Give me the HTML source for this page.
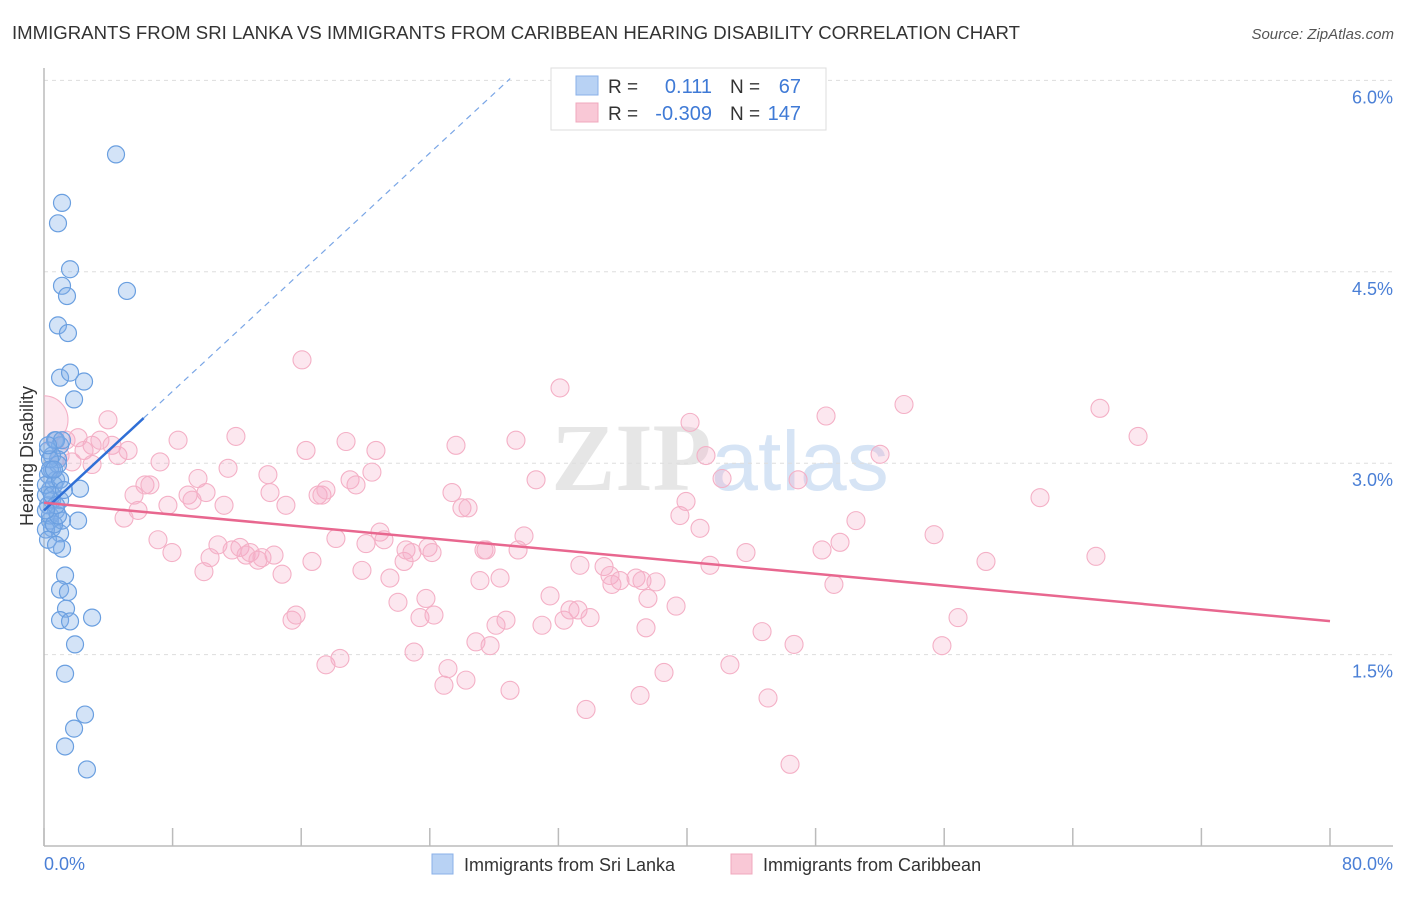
<!DOCTYPE html>
<html><head><meta charset="utf-8"><style>
body{margin:0;background:#fff;font-family:"Liberation Sans",sans-serif}
svg text{font-family:"Liberation Sans",sans-serif}
</style></head><body>
<svg id="chart" width="1406" height="892" xmlns="http://www.w3.org/2000/svg">
<text x="12" y="39" font-size="18" fill="#333" textLength="1008" lengthAdjust="spacingAndGlyphs">IMMIGRANTS FROM SRI LANKA VS IMMIGRANTS FROM CARIBBEAN HEARING DISABILITY CORRELATION CHART</text>
<text x="1394" y="39" font-size="15" fill="#555" font-style="italic" text-anchor="end">Source: ZipAtlas.com</text>
<text x="720" y="490" font-size="96" text-anchor="middle" fill="#e6e6e6"><tspan font-family="Liberation Serif" font-weight="bold">ZIP</tspan><tspan fill="#d6e4f5" font-size="84">atlas</tspan></text>
<g id="grid"></g>
<line x1="44" y1="68" x2="44" y2="846" stroke="#bbb" stroke-width="1.5"/>
<line x1="44" y1="846" x2="1393" y2="846" stroke="#bbb" stroke-width="1.5"/>
<g id="xticks"></g>
<text transform="translate(33,456) rotate(-90)" font-size="18" fill="#333" text-anchor="middle">Hearing Disability</text>
<text x="44" y="870" font-size="18" fill="#4a7fd6">0.0%</text>
<text x="1393" y="870" font-size="18" fill="#4a7fd6" text-anchor="end">80.0%</text>
<clipPath id="plotclip"><rect x="44" y="60" width="1360" height="786"/></clipPath>
<g id="pink" clip-path="url(#plotclip)"></g><g id="blue"></g><g id="lines"></g>
<g>
<rect x="551" y="68" width="275" height="62" fill="#fff" stroke="#ddd"/>
<rect x="576" y="76" width="22" height="19" fill="#b8d2f4" stroke="#8ab0e8"/>
<rect x="576" y="103" width="22" height="19" fill="#f9c8d6" stroke="#f0a8bd"/>
<text x="608" y="93" font-size="19" fill="#333">R =</text><text x="712" y="93" font-size="20" fill="#3f7ad6" text-anchor="end">0.111</text>
<text x="730" y="93" font-size="19" fill="#333">N =</text><text x="801" y="93" font-size="20" fill="#3f7ad6" text-anchor="end">67</text>
<text x="608" y="120" font-size="19" fill="#333">R =</text><text x="712" y="120" font-size="20" fill="#3f7ad6" text-anchor="end">-0.309</text>
<text x="730" y="120" font-size="19" fill="#333">N =</text><text x="801" y="120" font-size="20" fill="#3f7ad6" text-anchor="end">147</text>
</g>
<g>
<rect x="432" y="854" width="21" height="20" fill="#b8d2f4" stroke="#8ab0e8"/>
<text x="464" y="871" font-size="18" fill="#333">Immigrants from Sri Lanka</text>
<rect x="731" y="854" width="21" height="20" fill="#f9c8d6" stroke="#f0a8bd"/>
<text x="763" y="871" font-size="18" fill="#333">Immigrants from Caribbean</text>
</g>
</svg>
<script>
const yTicks=[1.5,3.0,4.5,6.0];
const yTickLabels=["1.5%","3.0%","4.5%","6.0%"];
const xTicks=[0,8,16,24,32,40,48,56,64,72,80];
const blueX=[4.48,1.12,0.87,1.62,1.12,1.43,5.16,0.87,1.49,1.00,1.62,2.49,1.87,0.68,1.00,0.87,0.50,0.75,0.37,2.24,0.50,0.75,0.37,2.12,0.50,1.00,1.12,1.31,1.00,1.49,1.37,1.00,1.62,2.99,1.93,1.31,2.55,1.87,1.31,2.67,0.25,0.50,0.25,0.62,0.25,0.37,0.12,0.12,0.87,1.12,0.37,1.00,0.12,0.62,0.25,0.75,0.37,0.75,1.12,0.25,0.50,0.87,0.75,0.12,1.00,0.62,1.24];
const blueY=[5.42,5.04,4.88,4.52,4.39,4.31,4.35,4.08,4.02,3.67,3.71,3.64,3.50,3.18,3.14,3.03,2.95,2.87,2.79,2.80,2.71,2.63,2.55,2.55,2.49,2.45,2.33,2.12,2.01,1.99,1.86,1.77,1.76,1.79,1.58,1.35,1.03,0.92,0.78,0.60,3.10,3.06,2.91,2.83,2.67,2.59,2.48,2.75,2.99,2.55,3.03,2.71,2.83,2.52,2.40,2.36,2.95,3.18,3.18,3.14,2.75,2.59,2.67,2.63,2.87,2.95,2.79];
const pinkX=[0,3.98,1.37,2.12,2.99,2.49,3.48,4.23,4.60,5.23,1.00,2.99,1.74,5.60,5.85,4.98,6.28,6.59,7.22,7.71,8.34,7.09,7.96,8.96,9.21,9.58,10.08,9.95,10.33,10.82,11.20,11.45,11.70,11.94,12.19,12.57,12.82,13.31,13.56,13.93,14.06,14.31,14.81,15.05,15.43,15.68,16.05,16.30,16.67,17.05,17.29,17.54,17.54,18.16,18.41,18.79,19.04,19.41,19.78,20.03,20.40,20.65,20.90,21.15,21.52,22.02,22.40,22.52,22.89,23.02,23.39,23.76,23.89,24.14,24.26,24.88,25.13,25.38,25.63,26.00,26.38,26.25,26.87,27.12,27.37,27.50,27.75,28.37,28.12,28.74,28.99,29.36,29.49,29.86,30.61,30.98,31.48,32.10,32.35,32.72,33.22,33.34,33.72,33.97,34.84,35.21,35.33,35.83,36.83,37.08,37.20,37.45,37.57,38.07,38.57,39.32,39.56,39.94,40.19,40.81,41.18,41.43,42.18,42.67,43.67,44.67,45.04,46.41,46.66,46.91,48.40,48.65,49.14,49.52,50.51,52.01,53.50,55.37,55.86,56.86,58.60,61.96,65.44,65.69,68.06];
const pinkY=[3.34,3.34,3.18,3.20,3.14,3.10,3.18,3.14,3.06,3.10,3.06,2.99,3.01,2.75,2.63,2.57,2.83,2.83,3.01,2.67,3.18,2.40,2.30,2.75,2.71,2.88,2.77,2.15,2.26,2.36,2.67,2.96,2.32,3.21,2.34,2.28,2.30,2.24,2.26,2.91,2.77,2.28,2.13,2.67,1.77,1.81,3.81,3.10,2.23,2.75,2.75,2.79,1.42,2.41,1.47,3.17,2.87,2.83,2.16,2.37,2.93,3.10,2.46,2.40,2.10,1.91,2.23,2.32,2.30,1.52,1.79,1.94,2.34,2.30,1.81,1.26,1.39,2.77,3.14,2.65,2.65,1.30,1.60,2.08,2.32,2.32,1.57,2.10,1.73,1.77,1.22,3.18,2.32,2.43,2.87,1.73,1.96,3.59,1.77,1.85,1.85,2.20,1.07,1.79,2.19,2.12,2.05,2.08,2.10,1.18,2.08,1.71,1.94,2.07,1.36,1.88,2.59,2.70,3.32,2.49,3.06,2.20,2.88,1.42,2.30,1.68,1.16,0.64,1.58,2.87,2.32,3.37,2.05,2.38,2.55,3.07,3.46,2.44,1.57,1.79,2.23,2.73,2.27,3.43,3.21];
const blueTrend=[2.63,0.1167];
const pinkTrend=[2.69,-0.0116];
const NS="http://www.w3.org/2000/svg";
const xs=v=>44+v*16.075, ys=v=>846-v*127.6;
function mk(parent,tag,attrs){const e=document.createElementNS(NS,tag);for(const k in attrs)e.setAttribute(k,attrs[k]);document.getElementById(parent).appendChild(e);return e;}
yTicks.forEach((t,i)=>{
 const l=mk('grid','line',{x1:44,x2:1393,y1:ys(t),y2:ys(t),stroke:'#ddd','stroke-dasharray':'4,4'});
 
 
 const tx=mk('grid','text',{x:1393,y:ys(t)+23,'font-size':18,fill:'#4a7fd6','text-anchor':'end'});
 tx.textContent=yTickLabels[i];
 
 
});
xTicks.forEach(t=>{
 const l=mk('xticks','line',{x1:xs(t),x2:xs(t),y1:828,y2:846,stroke:'#bbb','stroke-width':1.5});
 
 
});
pinkX.forEach((x,i)=>{
 const c=mk('pink','circle',{cx:xs(x),cy:ys(pinkY[i]),r:i===0?24:9,fill:'rgba(246,170,196,0.28)',stroke:'#f4b0c6','stroke-width':1.1});
 
 
});
blueX.forEach((x,i)=>{
 const c=mk('blue','circle',{cx:xs(x),cy:ys(blueY[i]),r:8.5,fill:'rgba(130,175,232,0.35)',stroke:'#6a9fe0','stroke-width':1.2});
 
 
});
const bt=mk('lines','line',{x1:xs(0),y1:ys(blueTrend[0]),x2:xs(6.2),y2:ys(blueTrend[0]+blueTrend[1]*6.2),stroke:'#2f6fd6','stroke-width':2.5});


const bd=mk('lines','line',{x1:xs(6.2),y1:ys(blueTrend[0]+blueTrend[1]*6.2),x2:xs(29),y2:ys(blueTrend[0]+blueTrend[1]*29),stroke:'#7aa6e6','stroke-width':1.2,'stroke-dasharray':'6,5'});


const pt=mk('lines','line',{x1:xs(0),y1:ys(pinkTrend[0]),x2:xs(80),y2:ys(pinkTrend[0]+pinkTrend[1]*80),stroke:'#e8678f','stroke-width':2.5});


</script>
</body></html>
